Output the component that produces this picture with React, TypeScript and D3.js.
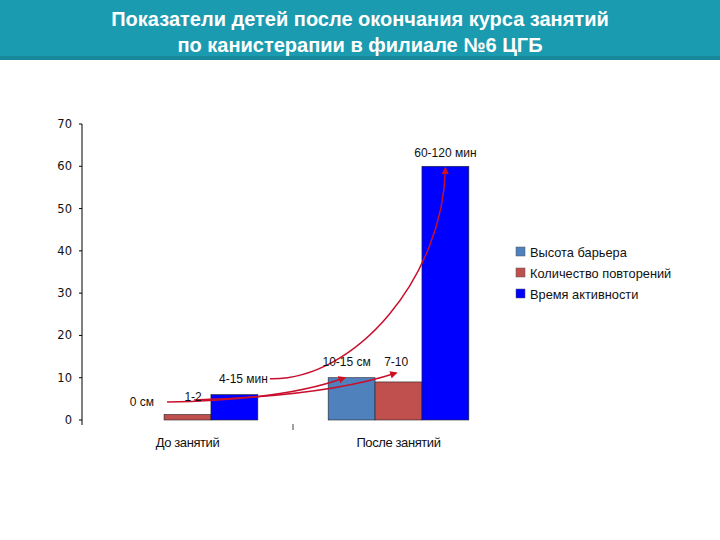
import React from "react";
import * as d3 from "d3";

// chart data
const categories = ["До занятий", "После занятий"];
const seriesNames = ["Высота барьера", "Количество повторений", "Время активности"];
const barrierHeight = [0, 10];
const repetitions = [1.3, 9];
const activityTime = [6, 60];
const yTicks = [0, 10, 20, 30, 40, 50, 60, 70];
const colors = ["#4f81bd", "#c0504d", "#0000ff"];

const W = 720;
const H = 540;

export default function App() {
  const x0 = d3.scaleBand<string>().domain(categories).range([82, 504]);
  const x1 = d3
    .scaleBand<string>()
    .domain(seriesNames)
    .range([0, x0.bandwidth()])
    .paddingOuter(0.75);
  const y = d3.scaleLinear().domain([0, 70]).range([420, 124]);

  const values = [barrierHeight, repetitions, activityTime];
  const bars = categories.flatMap((c, ci) =>
    seriesNames.map((s, si) => ({ c, s, si, v: values[si][ci] }))
  );

  const bx = (ci: number, si: number) => (x0(categories[ci]) ?? 0) + (x1(seriesNames[si]) ?? 0);
  const bw = x1.bandwidth();

  // anchor points for the annotation arrows
  const act0 = { x: bx(0, 2), y: y(activityTime[0]) };
  const act1 = { x: bx(1, 2) + bw / 2, y: y(activityTime[1]) };
  const bar0 = { x: bx(0, 1), y: y(barrierHeight[0]) };
  const bar1 = { x: bx(1, 0) + bw * 0.35, y: y(barrierHeight[1]) };
  const rep1 = { x: bx(1, 1) + bw * 0.45, y: y(repetitions[1]) };

  const a1s = [act0.x + 59, act0.y - 16];
  const arrow1 = `M${a1s[0]},${a1s[1]} C${act1.x - 90},${a1s[1] + 2} ${act1.x - 2},${act1.y + 110} ${act1.x},${act1.y + 2}`;
  const a2s = [bar0.x + 3, bar0.y - 18];
  const arrow2 = `M${a2s[0]},${a2s[1]} Q${bar1.x - 60},${a2s[1] - 2} ${bar1.x},${bar1.y}`;
  const a3s = [bar0.x + 30, bar0.y - 20];
  const arrow3 = `M${a3s[0]},${a3s[1]} Q${rep1.x - 70},${a3s[1] - 4} ${rep1.x},${rep1.y - 9}`;

  const annFont = { fontFamily: "Liberation Sans, Arial, sans-serif", fontSize: 12, fill: "#111" };

  return (
    <svg width={W} height={H} style={{ position: "absolute", left: 0, top: 0, background: "#fff" }}>
      <defs>
        <marker id="ah" viewBox="0 0 10 10" refX="8" refY="5" markerWidth="5" markerHeight="5" orient="auto">
          <path d="M0,0 L10,5 L0,10 z" fill="#d01020" />
        </marker>
      </defs>

      {/* header banner */}
      <rect x={0} y={0} width={W} height={60} fill="#1b9bb0" />
      <rect x={0} y={56} width={W} height={4} fill="#17879a" />
      <text x={W / 2} y={26} textAnchor="middle" fill="#fff" fontWeight="bold"
        style={{ fontFamily: "Liberation Sans, Arial, sans-serif", fontSize: 20 }}>
        Показатели детей после окончания курса занятий
      </text>
      <text x={W / 2} y={52} textAnchor="middle" fill="#fff" fontWeight="bold"
        style={{ fontFamily: "Liberation Sans, Arial, sans-serif", fontSize: 20 }}>
        по канистерапии в филиале №6 ЦГБ
      </text>

      {/* y axis */}
      <line x1={82} x2={82} y1={y(70)} y2={y(0) + 5} stroke="#000" strokeWidth={1} />
      {yTicks.map((t) => (
        <g key={t}>
          <line x1={79} x2={82} y1={y(t)} y2={y(t)} stroke="#000" />
          <text x={72} y={y(t) + 4} textAnchor="end"
            style={{ fontFamily: "DejaVu Sans, Verdana, sans-serif", fontSize: 11.5, fill: "#111" }}>
            {t}
          </text>
        </g>
      ))}
      <line x1={x0.range()[0] + x0.bandwidth()} x2={x0.range()[0] + x0.bandwidth()}
        y1={y(0) + 4} y2={y(0) + 10} stroke="#444" />

      {/* bars */}
      {bars.map((d) => (
        <rect key={d.c + d.s}
          x={(x0(d.c) ?? 0) + (x1(d.s) ?? 0)}
          y={y(d.v)}
          width={bw}
          height={y(0) - y(d.v)}
          fill={colors[d.si]}
          stroke={d.v > 0 ? "#222" : "none"}
          strokeWidth={0.6} />
      ))}

      {/* category labels */}
      {categories.map((c) => (
        <text key={c} x={(x0(c) ?? 0) + x0.bandwidth() / 2} y={447} textAnchor="middle"
          style={{ fontFamily: "Liberation Sans, Arial, sans-serif", fontSize: 13, fill: "#111", letterSpacing: -0.4 }}>
          {c}
        </text>
      ))}

      {/* annotation arrows */}
      <path d={arrow1} fill="none" stroke="#c8102e" strokeWidth={1.5} markerEnd="url(#ah)" />
      <path d={arrow2} fill="none" stroke="#c8102e" strokeWidth={1.5} markerEnd="url(#ah)" />
      <path d={arrow3} fill="none" stroke="#c8102e" strokeWidth={1.5} markerEnd="url(#ah)" />

      {/* annotation labels */}
      <text x={act1.x} y={act1.y - 9} textAnchor="middle" style={annFont}>60-120 мин</text>
      <text x={bx(1, 0) + bw / 2 - 5} y={y(barrierHeight[1]) - 12} textAnchor="middle" style={annFont}>10-15 см</text>
      <text x={rep1.x} y={y(barrierHeight[1]) - 12} textAnchor="middle" style={annFont}>7-10</text>
      <text x={act0.x + 57} y={act0.y - 12} textAnchor="end" style={annFont}>4-15 мин</text>
      <text x={bar0.x - 10} y={bar0.y - 14} textAnchor="end" style={annFont}>0 см</text>
      <text x={bar0.x + 29} y={bar0.y - 19} textAnchor="middle" style={annFont}>1-2</text>

      {/* legend */}
      {seriesNames.map((s, i) => (
        <g key={s} transform={`translate(516,${247 + i * 21})`}>
          <rect x={0} y={0} width={9} height={9} fill={colors[i]} stroke="#555" strokeWidth={0.5} />
          <text x={14} y={9.5} style={{ fontFamily: "Liberation Sans, Arial, sans-serif", fontSize: 12.8, fill: "#111" }}>
            {s}
          </text>
        </g>
      ))}
    </svg>
  );
}
